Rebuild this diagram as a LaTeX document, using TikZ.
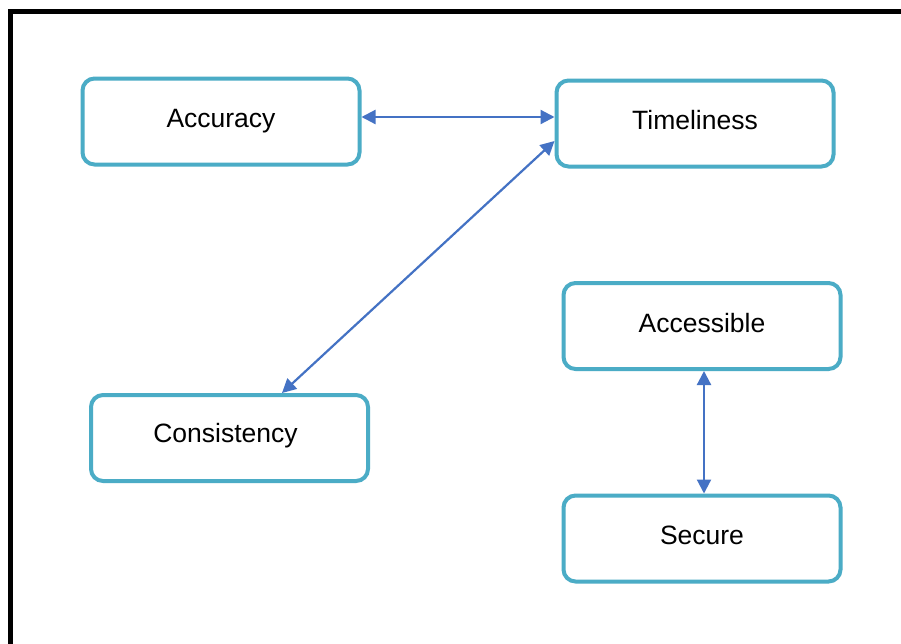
\documentclass[tikz,border=0pt]{standalone}
\usepackage{fontspec}
\setmainfont{Liberation Sans}
\usetikzlibrary{arrows.meta}
\definecolor{boxcol}{HTML}{4BACC6}
\definecolor{arrcol}{HTML}{4472C4}
\tikzset{
  box/.style={draw=boxcol, line width=4pt, rounded corners=12pt, fill=white,
    minimum width=277pt, minimum height=86pt, inner sep=0pt,
    text height=19pt, text depth=7pt,
    font=\fontsize{26.5pt}{30pt}\selectfont},
  link/.style={draw=arrcol, line width=2.2pt,
    {Triangle[length=14pt,width=14pt]}-{Triangle[length=14pt,width=14pt]}}
}
\begin{document}
\begin{tikzpicture}[x=1pt,y=-1pt]
\useasboundingbox (0,0) rectangle (901,643);
\clip (0,0) rectangle (901,643);
\fill[white] (0,0) rectangle (901,643);
\draw[line width=5pt] (10.5,11.5) rectangle (920,670);
\node[box] (acc) at (221,121.5) {Accuracy};
\node[box] (tim) at (695,123.5) {Timeliness};
\node[box] (acs) at (702,326) {Accessible};
\node[box, text depth=10pt, text height=19pt] (con) at (229.5,438) {\hspace*{-8pt}Consistency};
\node[box] (sec) at (702,538.5) {Secure};
\draw[link] (acc.east |- 0,117) -- (tim.west |- 0,117);
\draw[link] ([yshift=-17.5pt]tim.west) -- ([xshift=52.5pt]con.north);
\draw[link] ([xshift=2pt]acs.south) -- ([xshift=2pt]sec.north);
\end{tikzpicture}
\end{document}
